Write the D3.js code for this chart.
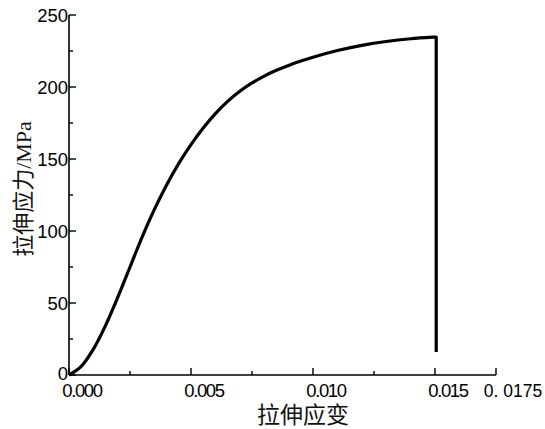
<!DOCTYPE html>
<html><head><meta charset="utf-8">
<script src="https://cdn.jsdelivr.net/npm/d3@7"></script>
<style>body{margin:0;background:#fff}svg{display:block}</style>
</head><body>
<svg id="c" width="545" height="429"></svg>
<script>
const strain = [0,0.0005,0.001,0.0015,0.002,0.0025,0.003,0.0035,0.004,0.0045,0.005,0.0055,0.006,0.0065,0.007,0.0075,0.008,0.0085,0.009,0.0095,0.010,0.011,0.012,0.013,0.014,0.0149];
const stress = [0,6,18,34.5,54,75,96,115,132,147,160,171.5,181.5,190,197,202.8,207.6,211.6,215,218,220.7,225.3,228.9,231.6,233.5,234.6];
const breakStrain = [0.01505,0.01505];
const breakStress = [234.6,16];
const xMajor = [0,0.005,0.010,0.015,0.0175];
const xMinor = [0.0025,0.0075,0.0125];
const xLabels = ["0.000","0.005","0.010","0.015","0. 0175"];
const yMajor = [0,50,100,150,200,250];
const yMinor = [25,75,125,175,225];
const xTitle = "拉伸应变";
const yTitle = "拉伸应力/MPa";

const svg = d3.select("#c");
const x = d3.scaleLinear().domain([0,0.0175]).range([69,496]);
const y = d3.scaleLinear().domain([0,250]).range([375,15]);
const sans = "Liberation Sans, Arial, sans-serif";
const titleFont = "Liberation Serif, Noto Sans CJK SC, serif";

svg.append("line").attr("x1",x(0)).attr("x2",x(0.0175)).attr("y1",y(0)).attr("y2",y(0)).attr("stroke","#000").attr("stroke-width",1.6);
svg.append("line").attr("x1",x(0)).attr("x2",x(0)).attr("y1",y(0)).attr("y2",y(250)).attr("stroke","#000").attr("stroke-width",1.6);

svg.selectAll(".xt").data(xMajor).enter().append("line")
  .attr("x1",d=>x(d)).attr("x2",d=>x(d)).attr("y1",y(0)).attr("y2",y(0)-7).attr("stroke","#000").attr("stroke-width",1.4);
svg.selectAll(".xm").data(xMinor).enter().append("line")
  .attr("x1",d=>x(d)).attr("x2",d=>x(d)).attr("y1",y(0)).attr("y2",y(0)-4).attr("stroke","#000").attr("stroke-width",1.4);
svg.selectAll(".xl").data(xMajor).enter().append("text")
  .attr("x",(d,i)=>x(d)+(i===4?17:13)).attr("y",397)
  .attr("text-anchor","middle").attr("font-family",sans).attr("font-size",(d,i)=>i===4?17.5:18.5)
  .attr("letter-spacing",(d,i)=>i===4?0:-1.4)
  .text((d,i)=>xLabels[i]);

svg.selectAll(".yt").data(yMajor).enter().append("line")
  .attr("x1",x(0)).attr("x2",x(0)+7).attr("y1",d=>y(d)).attr("y2",d=>y(d)).attr("stroke","#000").attr("stroke-width",1.4);
svg.selectAll(".ym").data(yMinor).enter().append("line")
  .attr("x1",x(0)).attr("x2",x(0)+4).attr("y1",d=>y(d)).attr("y2",d=>y(d)).attr("stroke","#000").attr("stroke-width",1.4);
svg.selectAll(".yl").data(yMajor).enter().append("text")
  .attr("x",x(0)-1).attr("y",d=>y(d)+(d===0?5:6.5))
  .attr("text-anchor","end").attr("font-family",sans).attr("font-size",18.5)
  .text(d=>d);

svg.append("text").attr("x",303).attr("y",423).attr("text-anchor","middle")
  .attr("font-family",titleFont).attr("font-size",23).attr("fill","#111").text(xTitle);
svg.append("text").attr("transform","translate(31,189) rotate(-90)").attr("text-anchor","middle")
  .attr("font-family",titleFont).attr("font-size",22).attr("fill","#111").text(yTitle);

const pts = strain.map((s,i)=>[s,stress[i]]);
const brk = breakStrain.map((s,i)=>[s,breakStress[i]]);
const curve = d3.line().x(d=>x(d[0])).y(d=>y(d[1])).curve(d3.curveCatmullRom.alpha(0.5));
const straight = d3.line().x(d=>x(d[0])).y(d=>y(d[1]));
svg.append("path").attr("d",curve(pts) + straight(brk).replace(/^M/,"L"))
  .attr("fill","none").attr("stroke","#000").attr("stroke-width",3.2).attr("stroke-linejoin","round");
</script>
</body></html>
